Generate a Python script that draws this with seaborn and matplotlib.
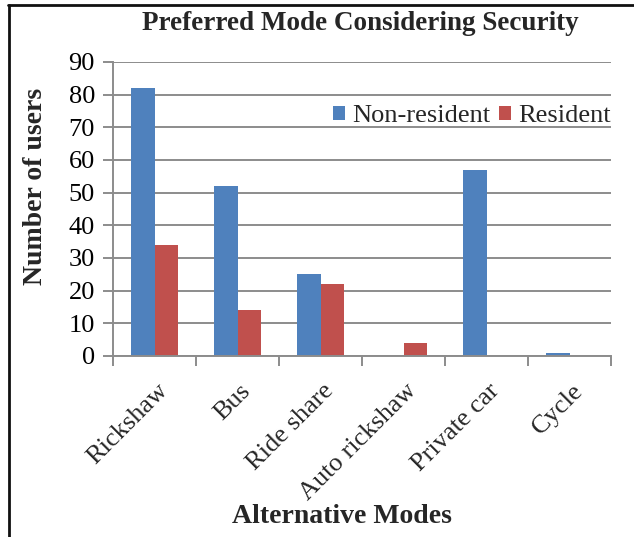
import matplotlib
matplotlib.use("Agg")
import matplotlib.pyplot as plt
import matplotlib.transforms as mtransforms
from matplotlib.lines import Line2D
import pandas as pd
import seaborn as sns

# Survey counts of preferred travel mode with security in mind
modes = ["Rickshaw", "Bus", "Ride share", "Auto rickshaw", "Private car", "Cycle"]
non_resident = [82, 52, 25, 0, 57, 1]
resident = [34, 14, 22, 4, 0, 0]
groups = ["Non-resident", "Resident"]
colors = ["#4F81BD", "#C0504D"]
y_ticks = [0, 10, 20, 30, 40, 50, 60, 70, 80, 90]

df = pd.DataFrame({
    "Mode": modes * 2,
    "Group": [groups[0]] * len(modes) + [groups[1]] * len(modes),
    "Users": non_resident + resident,
})

sns.set_theme(style="white")
plt.rcParams["font.family"] = ["Liberation Serif", "DejaVu Serif"]

W, H = 634, 537
fig = plt.figure(figsize=(W / 100, H / 100), dpi=100)
ax = fig.add_axes([113 / W, 1 - 356 / H, (611 - 113) / W, (356 - 62) / H])

grid_c = "#8C8C8C"
sns.barplot(data=df, x="Mode", y="Users", hue="Group", order=modes,
            hue_order=groups, palette=colors, width=0.57, gap=0,
            saturation=1, linewidth=0, ax=ax, legend=True)

ax.set_xlim(-0.5, len(modes) - 0.5)
ax.set_ylim(0, 90)
ax.set_yticks(y_ticks)
ax.yaxis.grid(True, color=grid_c, linewidth=1.4)
ax.set_axisbelow(True)

for side in ["top", "right"]:
    ax.spines[side].set_visible(False)
for side in ["left", "bottom"]:
    ax.spines[side].set_color(grid_c)
    ax.spines[side].set_linewidth(1.4)

# category boundaries carry the tick marks, labels sit at the centers
ax.set_xticks([i - 0.5 for i in range(len(modes) + 1)], minor=True)
ax.tick_params(axis="x", which="minor", length=7, width=1.4, color=grid_c,
               direction="out", bottom=True)
ax.tick_params(axis="x", which="major", length=0, pad=17)
ax.tick_params(axis="y", which="major", length=7, width=1.4, color=grid_c,
               direction="out", left=True, labelsize=19, pad=6)
ax.set_xticks(range(len(modes)))
ax.set_xticklabels(modes, rotation=45, ha="right", va="top",
                   rotation_mode="anchor", fontsize=19)
shift = mtransforms.ScaledTranslation(2 / 100, 0, fig.dpi_scale_trans)
for t in ax.get_xticklabels():
    t.set_transform(t.get_transform() + shift)
for t in ax.get_yticklabels():
    t.set_color("black")

ax.set_xlabel("")
ax.set_ylabel("Number of users", fontsize=20, fontweight="bold")
ax.yaxis.set_label_coords((48 - 113) / 498, (356 - 186) / 294)

ax.legend(loc="center left", bbox_to_anchor=(333 / W, 1 - 116 / H),
          bbox_transform=fig.transFigure, ncol=2, frameon=False,
          fontsize=19, handlelength=0.45, handleheight=0.45,
          handletextpad=0.27, columnspacing=0.34, borderpad=0,
          borderaxespad=0)

fig.text(360 / W, 1 - 30 / H, "Preferred Mode Considering Security",
         ha="center", va="baseline", fontsize=19.5, fontweight="bold")
fig.text(342 / W, 1 - 523 / H, "Alternative Modes",
         ha="center", va="baseline", fontsize=20, fontweight="bold")

# outer frame: top and left edges
fig.add_artist(Line2D([8 / W, 1], [1 - 5 / H, 1 - 5 / H],
                      transform=fig.transFigure, color="#111111", linewidth=2))
fig.add_artist(Line2D([9 / W, 9 / W], [0, 1 - 5 / H],
                      transform=fig.transFigure, color="#111111", linewidth=2))

fig.savefig("out.png", dpi=100)
